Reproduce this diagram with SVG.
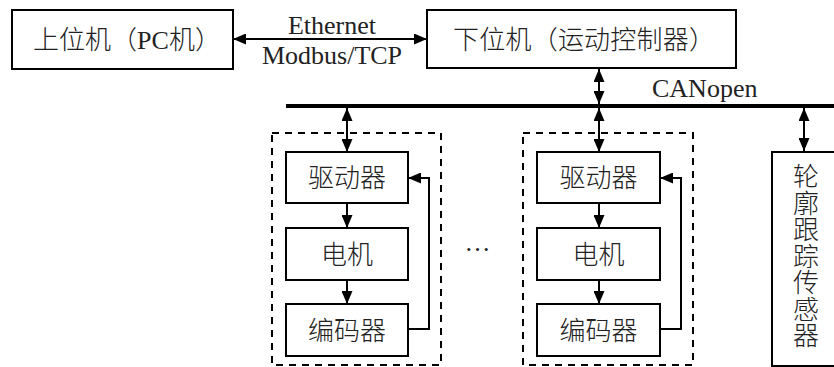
<svg xmlns="http://www.w3.org/2000/svg" width="834" height="367" viewBox="0 0 834 367">
<style>
.box{fill:#fff;stroke:#000;stroke-width:2}
.dash{fill:none;stroke:#000;stroke-width:2;stroke-dasharray:7 6}
.ln{fill:none;stroke:#000;stroke-width:2}
.bus{fill:none;stroke:#000;stroke-width:4}
text{font-family:"Liberation Serif","Noto Sans CJK SC",serif;font-size:26px;font-weight:300;fill:#222}
.c{text-anchor:middle}
</style>
<defs>
<marker id="ah" viewBox="0 0 13 11" refX="13" refY="5.5" markerWidth="13" markerHeight="11" markerUnits="userSpaceOnUse" orient="auto-start-reverse">
<path d="M0,0 L13,5.5 L0,11 z" fill="#000"/>
</marker>
</defs>
<rect width="834" height="367" fill="#fff"/>

<g id="pc">
<rect class="box" x="12" y="10" width="221" height="59"/>
<text class="c" x="127" y="49">上位机（PC机）</text>
</g>
<g id="controller">
<rect class="box" x="427" y="10" width="309" height="58"/>
<text class="c" x="584" y="49" textLength="262">下位机（运动控制器）</text>
</g>

<g id="group1">
<rect class="dash" x="272" y="133" width="169" height="232"/>
<g id="drive1"><rect class="box" x="286" y="152" width="122" height="51"/><text class="c" x="347" y="187">驱动器</text></g>
<g id="motor1"><rect class="box" x="286" y="228" width="122" height="52"/><text class="c" x="347" y="264">电机</text></g>
<g id="encoder1"><rect class="box" x="286" y="304" width="122" height="52"/><text class="c" x="347" y="340">编码器</text></g>
</g>

<g id="group2">
<rect class="dash" x="523" y="133" width="170" height="232"/>
<g id="drive2"><rect class="box" x="537" y="152" width="123" height="51"/><text class="c" x="598.5" y="187">驱动器</text></g>
<g id="motor2"><rect class="box" x="537" y="228" width="123" height="52"/><text class="c" x="598.5" y="264">电机</text></g>
<g id="encoder2"><rect class="box" x="537" y="304" width="123" height="52"/><text class="c" x="598.5" y="340">编码器</text></g>
</g>

<g id="ellipsis"><text class="c" x="477.5" y="251">…</text></g>

<g id="sensor">
<rect class="box" x="772" y="152" width="70" height="214"/>
<text class="c" x="806" y="186">轮</text>
<text class="c" x="806" y="212.5">廓</text>
<text class="c" x="806" y="239">跟</text>
<text class="c" x="806" y="265.5">踪</text>
<text class="c" x="806" y="292">传</text>
<text class="c" x="806" y="318.5">感</text>
<text class="c" x="806" y="345">器</text>
</g>

<g id="connectors">
<line class="bus" x1="286" y1="106" x2="834" y2="106"/>
<line class="ln" x1="233" y1="39" x2="427" y2="39" marker-start="url(#ah)" marker-end="url(#ah)"/>
<text class="c" x="332" y="34">Ethernet</text>
<text class="c" x="332" y="64">Modbus/TCP</text>
<line class="ln" x1="599" y1="69" x2="599" y2="104" marker-start="url(#ah)" marker-end="url(#ah)"/>
<text x="652" y="97">CANopen</text>
<line class="ln" x1="347" y1="108" x2="347" y2="152" marker-start="url(#ah)" marker-end="url(#ah)"/>
<line class="ln" x1="599" y1="108" x2="599" y2="152" marker-start="url(#ah)" marker-end="url(#ah)"/>
<line class="ln" x1="804" y1="108" x2="804" y2="151" marker-start="url(#ah)" marker-end="url(#ah)"/>
<line class="ln" x1="347" y1="203" x2="347" y2="228" marker-end="url(#ah)"/>
<line class="ln" x1="347" y1="280" x2="347" y2="304" marker-end="url(#ah)"/>
<line class="ln" x1="599" y1="203" x2="599" y2="228" marker-end="url(#ah)"/>
<line class="ln" x1="599" y1="280" x2="599" y2="304" marker-end="url(#ah)"/>
<polyline class="ln" points="408,329 429,329 429,178 408,178" marker-end="url(#ah)"/>
<polyline class="ln" points="660,329 681,329 681,178 660,178" marker-end="url(#ah)"/>
</g>
</svg>
